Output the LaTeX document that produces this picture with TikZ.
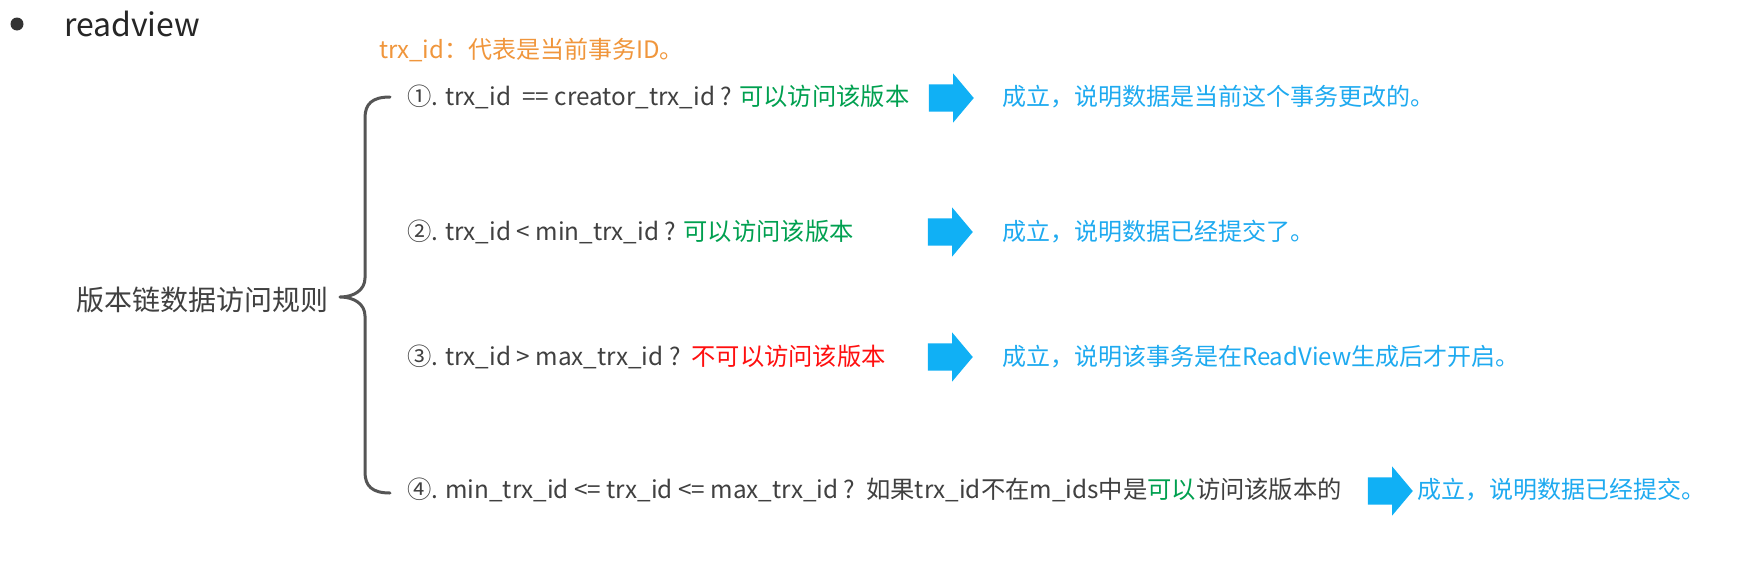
\documentclass[tikz,border=0pt]{standalone}
\usepackage{fontspec}
\setmainfont{Noto Sans CJK SC}
\usetikzlibrary{shapes.arrows}
\definecolor{txtgray}{HTML}{404040}
\definecolor{notorange}{HTML}{F0963C}
\definecolor{okgreen}{HTML}{00A050}
\definecolor{badred}{HTML}{FF0F0F}
\definecolor{resblue}{HTML}{1EAAF0}
\definecolor{arrblue}{HTML}{10B0F5}
\definecolor{bracegray}{HTML}{555555}
\tikzset{
  base/.style={anchor=west, inner sep=0pt, outer sep=0pt},
  titletxt/.style={base, text=black!85, font=\fontsize{32}{36}\selectfont},
  notetxt/.style={base, text=notorange, font=\fontsize{24}{28}\selectfont},
  labeltxt/.style={base, text=txtgray, font=\fontsize{28}{32}\selectfont},
  ruletxt/.style={base, text=txtgray, font=\fontsize{24.3}{28}\selectfont},
  restxt/.style={base, text=resblue, font=\fontsize{24}{28}\selectfont},
  bulletdot/.style={circle, fill=black!80, minimum size=13pt, inner sep=0pt},
  bigarrow/.style={single arrow, fill=arrblue, draw=none, inner sep=13.5pt,
    minimum height=45pt, single arrow head extend=11pt,
    single arrow tip angle=100},
  bracestyle/.style={draw=bracegray, line width=3pt, line cap=round, line join=round}
}
\begin{document}
\begin{tikzpicture}[x=1pt,y=-1pt]
\useasboundingbox[fill=white] (0,0) rectangle (1741,560);
\node[bulletdot] (bullet) at (17,24) {};
\node[titletxt] (rv) at (64,24) {readview};
\node[notetxt] (note) at (379,50) {trx\_id：代表是当前事务ID。};
\node[labeltxt] (lbl) at (76,300) {版本链数据访问规则};
% brace
\coordinate (btop) at (390,97);
\coordinate (btip) at (340,297);
\coordinate (bbot) at (390,493);
\draw[bracestyle] (btop) .. controls (372,97) and (365,104) .. (365,118)
  -- (365,278) .. controls (365,290) and (354,297) .. (btip)
  .. controls (354,297) and (365,304) .. (365,316)
  -- (365,472) .. controls (365,486) and (372,493) .. (bbot);
% rules
\node[ruletxt] (r1) at (407,97) {①. trx\_id\ \ == creator\_trx\_id ? \textcolor{okgreen}{可以访问该版本}};
\node[ruletxt] (r2) at (407,232) {②. trx\_id < min\_trx\_id ? \textcolor{okgreen}{可以访问该版本}};
\node[ruletxt] (r3) at (407,357) {③. trx\_id > max\_trx\_id ?\ \ \textcolor{badred}{不可以访问该版本}};
\node[ruletxt] (r4) at (407,490) {④. min\_trx\_id <= trx\_id <= max\_trx\_id ?\ \ 如果trx\_id不在m\_ids中是\textcolor{okgreen}{可以}访问该版本的};
% arrows
\node[bigarrow] (a1) at (945.5,98) {};
\node[bigarrow] (a2) at (944.5,232) {};
\node[bigarrow] (a3) at (944.5,357) {};
\node[bigarrow] (a4) at (1384.5,491) {};
% results
\node[restxt] (b1) at (1002,97) {成立，说明数据是当前这个事务更改的。};
\node[restxt] (b2) at (1002,232) {成立，说明数据已经提交了。};
\node[restxt] (b3) at (1002,357) {成立，说明该事务是在ReadView生成后才开启。};
\node[restxt] (b4) at (1417,490) {成立，说明数据已经提交。};
\end{tikzpicture}
\end{document}
